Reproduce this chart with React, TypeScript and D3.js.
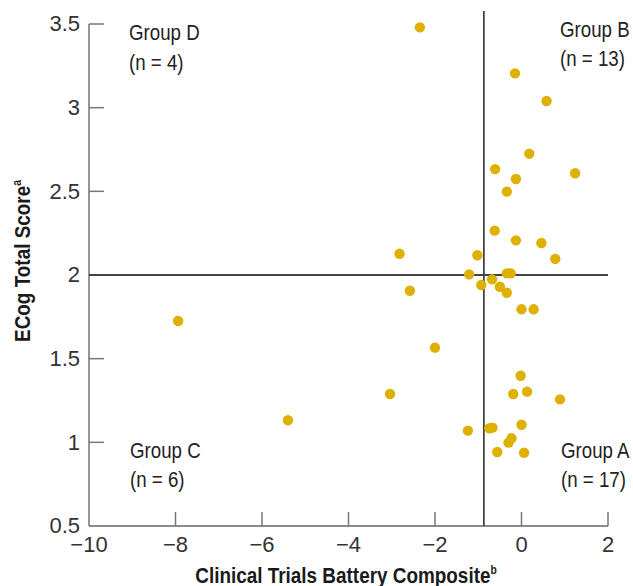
import React from "react";
import * as d3 from "d3";

const ctbComposite = [
  -2.35, -0.15, 0.58, 0.18, -0.61, 1.24, -0.13, -0.34, -0.62, -0.13, 0.46, -2.82, -1.02, 0.78,
  -1.21, -0.34, -0.25, -0.68, -0.93, -0.5, -0.34, -2.58, 0.0, 0.28, -2.0, -3.04, -0.02, -0.19,
  0.13, 0.89, -1.24, -0.74, -0.67, 0.0, -0.3, -0.23, -0.56, 0.06, -7.94, -5.4,
];
const ecogScore = [
  3.48, 3.205, 3.04, 2.725, 2.633, 2.608, 2.574, 2.498, 2.265, 2.207, 2.191, 2.127, 2.118, 2.096,
  2.004, 2.01, 2.01, 1.974, 1.94, 1.93, 1.894, 1.906, 1.795, 1.795, 1.566, 1.289, 1.398, 1.289,
  1.303, 1.257, 1.07, 1.084, 1.088, 1.105, 0.998, 1.024, 0.942, 0.938, 1.725, 1.132,
];
const xTicks = [-10, -8, -6, -4, -2, 0, 2];
const yTicks = [0.5, 1, 1.5, 2, 2.5, 3, 3.5];
const xCutoff = -0.87;
const yCutoff = 2;
const groupNames = ["Group D", "Group B", "Group C", "Group A"];
const groupCounts = ["(n = 4)", "(n = 13)", "(n = 6)", "(n = 17)"];

const W = 633;
const H = 586;
const x = d3.scaleLinear().domain([-10, 2]).range([89, 608]);
const y = d3.scaleLinear().domain([0.5, 3.5]).range([526, 24]);

const sans = "'Liberation Sans', Arial, sans-serif";
const SQ = 0.85; // horizontal squeeze to emulate a condensed face

const fmtX = (v: number) => (v < 0 ? "\u2212" + Math.abs(v) : String(v));

export default function App() {
  const groupPos = [
    { gx: 129, b1: 40, b2: 70 },
    { gx: 560, b1: 37, b2: 66 },
    { gx: 130, b1: 458, b2: 487 },
    { gx: 561, b1: 458, b2: 487 },
  ];
  return (
    <svg
      width={W}
      height={H}
      style={{ position: "absolute", left: 0, top: 0, background: "#fff" }}
    >
      {/* axes */}
      <line x1={x(-10)} x2={x(-10)} y1={y(3.5)} y2={y(0.5)} stroke="#8a8a8a" strokeWidth={1.8} />
      <line x1={x(-10)} x2={x(2)} y1={y(0.5)} y2={y(0.5)} stroke="#666" strokeWidth={1.6} />
      {yTicks
        .filter((t) => t !== 0.5 && t !== yCutoff)
        .map((t) => (
          <line key={"yt" + t} x1={x(-10)} x2={x(-10) + 15} y1={y(t)} y2={y(t)} stroke="#777" strokeWidth={1.5} />
        ))}
      {xTicks
        .filter((t) => t !== -10)
        .map((t) => (
          <line key={"xt" + t} x1={x(t)} x2={x(t)} y1={y(0.5)} y2={y(0.5) - 14} stroke="#777" strokeWidth={1.5} />
        ))}
      {yTicks.map((t) => (
        <text
          key={"yl" + t}
          x={x(-10) - 9}
          y={y(t)}
          dy="0.34em"
          textAnchor="end"
          fontFamily={sans}
          fontSize={22}
          fill="#333"
        >
          {String(t)}
        </text>
      ))}
      {xTicks.map((t) => (
        <text
          key={"xl" + t}
          x={x(t)}
          y={552}
          textAnchor="middle"
          fontFamily={sans}
          fontSize={22}
          fill="#333"
        >
          {fmtX(t)}
        </text>
      ))}
      {/* reference lines */}
      <line x1={x(-10)} x2={x(2)} y1={y(yCutoff)} y2={y(yCutoff)} stroke="#444" strokeWidth={1.8} />
      <line x1={x(xCutoff)} x2={x(xCutoff)} y1={11} y2={y(0.5)} stroke="#444" strokeWidth={1.8} />
      {/* points */}
      {ctbComposite.map((v, i) => (
        <circle key={"p" + i} cx={x(v)} cy={y(ecogScore[i])} r={5.2} fill="#DEB100" />
      ))}
      {/* group labels */}
      {groupNames.map((g, i) => (
        <g key={g} fontFamily={sans} fontSize={22} fill="#222">
          <text transform={`translate(${groupPos[i].gx},${groupPos[i].b1}) scale(${SQ},1)`}>{g}</text>
          <text transform={`translate(${groupPos[i].gx},${groupPos[i].b2}) scale(${SQ},1)`}>{groupCounts[i]}</text>
        </g>
      ))}
      {/* axis titles */}
      <text
        transform={`translate(346,583) scale(0.86,1)`}
        textAnchor="middle"
        fontFamily={sans}
        fontWeight="bold"
        fontSize={22}
        fill="#1a1a1a"
      >
        Clinical Trials Battery Composite
        <tspan fontSize={12} dy={-9}>b</tspan>
      </text>
      <text
        transform="translate(30,261) rotate(-90) scale(0.86,1)"
        textAnchor="middle"
        fontFamily={sans}
        fontWeight="bold"
        fontSize={22}
        fill="#1a1a1a"
      >
        ECog Total Score
        <tspan fontSize={12} dy={-9}>a</tspan>
      </text>
    </svg>
  );
}
